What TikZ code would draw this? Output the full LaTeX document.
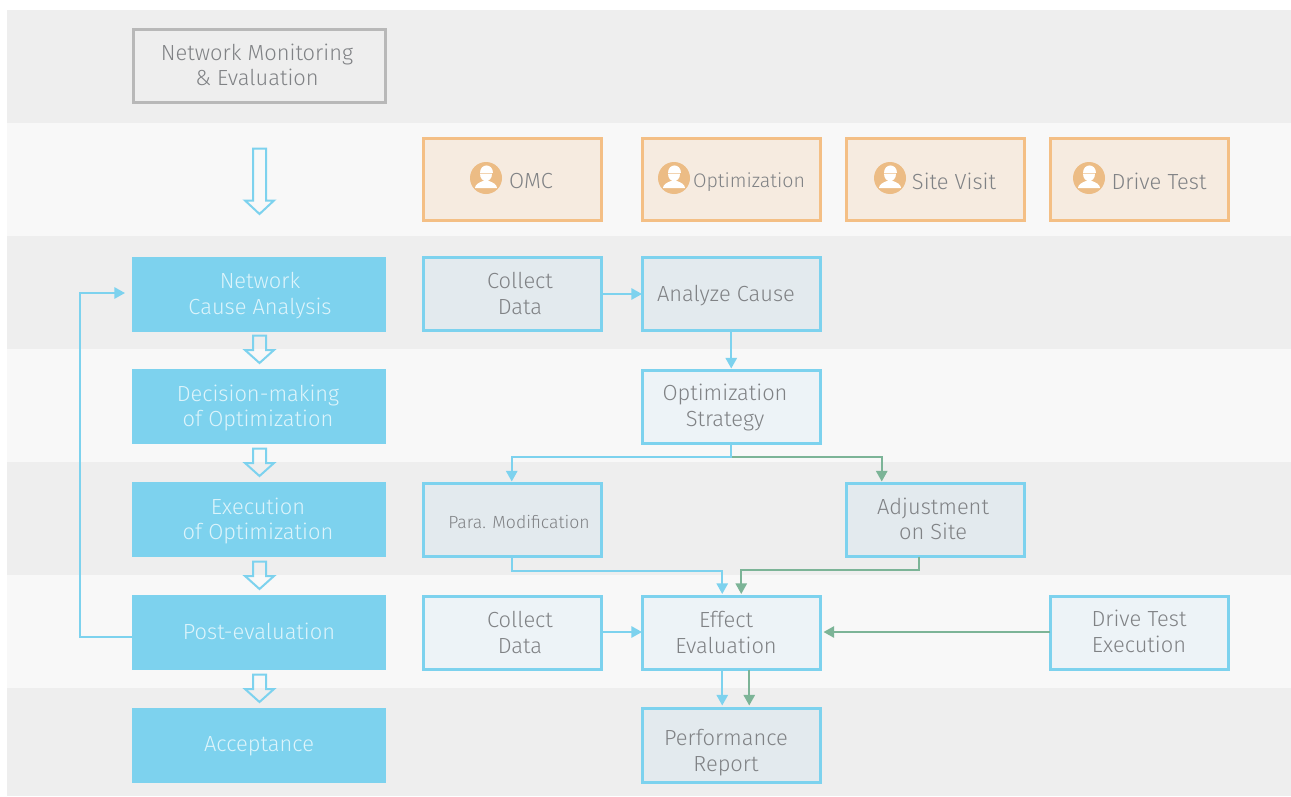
\documentclass[tikz,border=0pt]{standalone}
\usepackage{fontspec}
\setmainfont{Fira Sans Light}
\usetikzlibrary{arrows.meta,calc}
\definecolor{bandA}{HTML}{EEEEEE}
\definecolor{bandB}{HTML}{F8F8F8}
\definecolor{skyc}{HTML}{7DD2EE}
\definecolor{greenc}{HTML}{7CB497}
\definecolor{orangec}{HTML}{F4BF85}
\definecolor{orfill}{HTML}{F6EBE0}
\definecolor{iconc}{HTML}{ECBC85}
\definecolor{txtc}{HTML}{808285}
\definecolor{txtw}{HTML}{DDF4FB}
\definecolor{boxd}{HTML}{E3EAEE}
\definecolor{boxl}{HTML}{EDF3F7}
\definecolor{grayb}{HTML}{B8B8B8}
\tikzset{
  x=0.75pt,y=-0.75pt,
  labeltext/.style={text=txtc,align=center,font=\fontsize{16.4}{19.3}\selectfont,inner sep=0pt},
  whitetext/.style={labeltext,text=txtw},
  smalltext/.style={labeltext,font=\fontsize{13.2}{15}\selectfont},
  optitext/.style={labeltext,font=\fontsize{14.7}{19}\selectfont},
  graybox/.style={draw=grayb,line width=2.25pt,fill=bandA},
  orbox/.style={draw=orangec,line width=2.25pt,fill=orfill},
  solidbox/.style={fill=skyc},
  darkbox/.style={draw=skyc,line width=2.25pt,fill=boxd},
  lightbox/.style={draw=skyc,line width=2.25pt,fill=boxl},
  blueline/.style={draw=skyc,line width=1.5pt,-{Triangle[length=8pt,width=8.5pt]}},
  greenline/.style={draw=greenc,line width=1.5pt,-{Triangle[length=8pt,width=8.5pt]}},
  hollow/.style={draw=skyc,line width=1.5pt,line join=miter},
}
% name, style, x1,y1,x2,y2
\newcommand{\bx}[6]{\node[#2,inner sep=0pt,outer sep=0pt,minimum width={(#5-#3)*0.75pt},minimum height={(#6-#4)*0.75pt},anchor=north west] (#1) at (#3,#4) {};}
% bands
\newcommand{\band}[3]{\fill[#1] (7,#2) rectangle (1291,#3);}
% big hollow arrow: top, headstart, tip
\newcommand{\harrow}[3]{\draw[hollow] (253,#1) -- (266,#1) -- (266,#2) -- (274,#2) -- (259.5,#3) -- (245,#2) -- (253,#2) -- cycle;}
% worker icon
\newcommand{\worker}[3]{%
  \node[circle,fill=iconc,minimum size=24pt,inner sep=0pt] (#1) at (#2,#3) {};
  \begin{scope}[shift={(#2,#3)}]
    \fill[white] (-6.5,-5.5) .. controls (-6.5,-15.5) and (6.5,-15.5) .. (6.5,-5.5) -- cycle;
    \fill[white] (-6,-4.3) -- (6,-4.3) .. controls (6,0.5) and (3,3.2) .. (0,3.2) .. controls (-3,3.2) and (-6,0.5) .. (-6,-4.3) -- cycle;
    \fill[white] (-11,10) .. controls (-11,6.5) and (-7,4.5) .. (-3,3) -- (3,3) .. controls (7,4.5) and (11,6.5) .. (11,10) -- cycle;
  \end{scope}}
\begin{document}
\begin{tikzpicture}
\useasboundingbox (0,0) rectangle (1291,796);
\fill[white] (0,0) rectangle (1291,796);
\band{bandA}{10}{123}
\band{bandB}{123}{236}
\band{bandA}{236}{349}
\band{bandB}{349}{462}
\band{bandA}{462}{575}
\band{bandB}{575}{688}
\band{bandA}{688}{796}
% hollow arrows
\harrow{148.5}{200.5}{214}
\harrow{335.5}{350}{363}
\harrow{448.5}{463}{476}
\harrow{561.5}{576}{589}
\harrow{674.5}{689}{702}
% boxes
\bx{mon}{graybox}{133}{29}{385.5}{102.5}
\bx{omc}{orbox}{423}{138.5}{601.5}{220.5}
\bx{opt}{orbox}{642}{138.5}{820.5}{220.5}
\bx{site}{orbox}{846}{138.5}{1024.5}{220.5}
\bx{dt}{orbox}{1050}{138.5}{1228.5}{220.5}
\bx{s1}{solidbox}{132}{257}{386}{332}
\bx{s2}{solidbox}{132}{369}{386}{444}
\bx{s3}{solidbox}{132}{482}{386}{557}
\bx{s4}{solidbox}{132}{595}{386}{670}
\bx{s5}{solidbox}{132}{708}{386}{783}
\bx{collectA}{darkbox}{423}{257.5}{601.5}{330.5}
\bx{analyze}{darkbox}{642}{257.5}{820.5}{330.5}
\bx{strategy}{lightbox}{642}{370}{820.5}{443.5}
\bx{para}{darkbox}{423}{483}{601.5}{556.5}
\bx{adjust}{darkbox}{846}{483}{1024.5}{556.5}
\bx{collectB}{lightbox}{423}{596}{601.5}{669.5}
\bx{effect}{lightbox}{642}{596}{820.5}{669.5}
\bx{dtexec}{lightbox}{1050}{596}{1228.5}{669.5}
\bx{report}{darkbox}{642}{708.5}{820.5}{782.5}
% texts
\node[labeltext] (tmon) at (257,65) {Network Monitoring\\\& Evaluation};
\node[labeltext] (tomc) at (531,181) {OMC};
\node[optitext] (topt) at (749,182) {Optimization};
\node[labeltext] (tsite) at (954,181) {Site Visit};
\node[labeltext] (tdt) at (1159,181) {Drive Test};
\node[whitetext] (ts1) at (260,295.5) {Network\\Cause Analysis};
\node[whitetext] (ts2) at (258,408) {Decision-making\\of Optimization};
\node[whitetext] (ts3) at (258,521) {Execution\\of Optimization};
\node[whitetext] (ts4) at (259,631) {Post-evaluation};
\node[whitetext] (ts5) at (259,746) {Acceptance};
\node[labeltext] (tca) at (520,293.5) {Collect\\Data};
\node[labeltext] (tan) at (726,295.5) {Analyze Cause};
\node[labeltext] (tst) at (725,407.5) {Optimization\\Strategy};
\node[smalltext] (tpa) at (519,522) {Para. Modification};
\node[labeltext] (tad) at (933,519) {Adjustment\\on Site};
\node[labeltext] (tcb) at (520,632.5) {Collect\\Data};
\node[labeltext] (tef) at (726,632.5) {Effect\\Evaluation};
\node[labeltext] (tde) at (1139,631.5) {Drive Test\\Execution};
\node[labeltext] (tre) at (726,752.5) {Performance\\Report};
% icons
\worker{iomc}{486}{178}
\worker{iopt}{674}{178}
\worker{isite}{890}{178}
\worker{idt}{1089}{178}
% connectors
\draw[blueline] (collectA.east |- 0,294) -- (analyze.west |- 0,294);
\draw[blueline] (analyze.south) -- ($(strategy.north)+(0,-1.5)$);
\coordinate (fork) at ($(strategy.south)+(0,13)$);
\draw[greenline] (strategy.south) -- (fork) -| ($(adjust.north)+(-53.5,-1.5)$);
\draw[blueline] (strategy.south) -- (fork) -| ($(para.north)+(-0.5,-1.5)$);
\draw[blueline] (para.south) |- ++(210,14) -- ($(effect.north)+(-9,-2)$);
\draw[greenline] ($(adjust.south)+(-16,0)$) -- ++(0,13) -| ($(effect.north)+(10,-2)$);
\draw[blueline] (collectB.east |- 0,632) -- (effect.west |- 0,632);
\draw[greenline] (dtexec.west |- 0,632) -- ($(effect.east |- 0,632)+(3,0)$);
\draw[blueline] ($(effect.south)+(-9,0)$) -- ($(report.north)+(-9,-3)$);
\draw[greenline] ($(effect.south)+(18,0)$) -- ($(report.north)+(18,-3)$);
\coordinate (loop) at (80,637);
\draw[blueline] (s4.west |- 0,637) -- (loop) |- ($(s1.west |- 0,293)+(-7,0)$);
\end{tikzpicture}
\end{document}
